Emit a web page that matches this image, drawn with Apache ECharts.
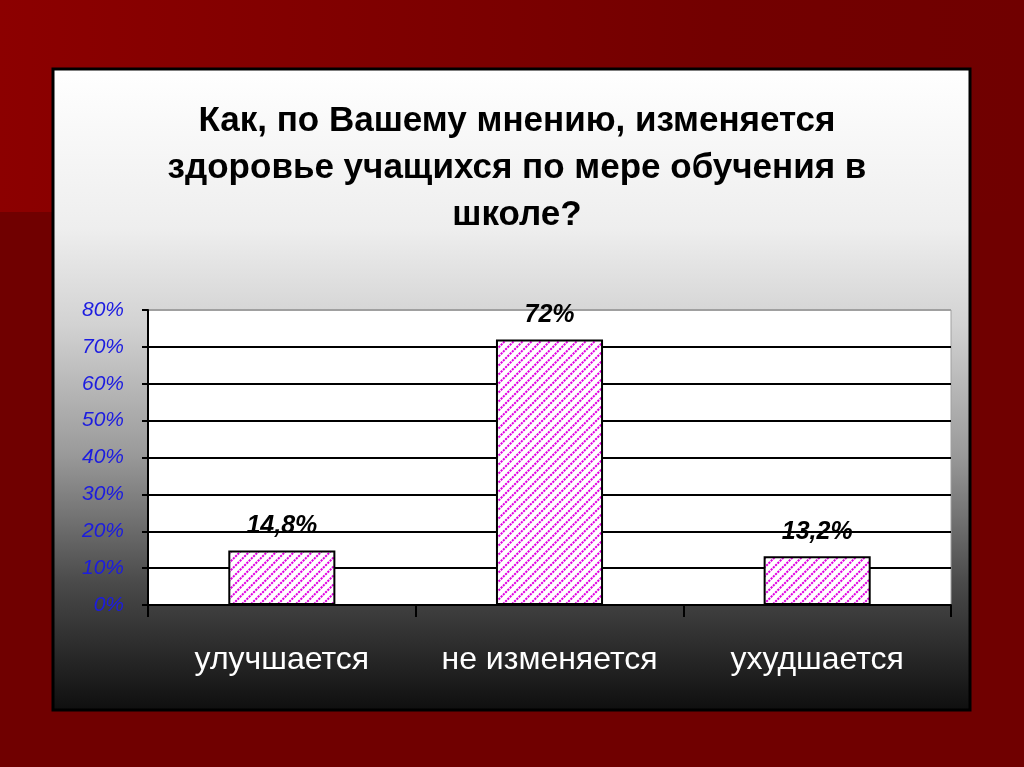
<!DOCTYPE html>
<html>
<head>
<meta charset="utf-8">
<script src="https://cdn.jsdelivr.net/npm/echarts@6/dist/echarts.min.js"></script>
<style>
html,body{margin:0;padding:0;background:#700000;}
#c{width:1024px;height:767px;}
</style>
</head>
<body>
<div id="c"></div>
<script>
var categories = ['улучшается', 'не изменяется', 'ухудшается'];
var values = [14.8, 72, 13.2];
var valueLabels = ['14,8%', '72%', '13,2%'];
var yTicks = [0, 10, 20, 30, 40, 50, 60, 70, 80];
var titleText = 'Как, по Вашему мнению, изменяется\nздоровье учащихся по мере обучения в\nшколе?';

// hatch pattern: dotted diagonal stripes
var pc = document.createElement('canvas');
pc.width = 9; pc.height = 9;
var g = pc.getContext('2d');
g.fillStyle = '#ffffff';
g.fillRect(0, 0, 9, 9);
g.strokeStyle = '#e000e0';
g.lineWidth = 2;
g.setLineDash([2.2, 1]);
[-9, 0, 9].forEach(function (o) {
  g.beginPath();
  g.moveTo(o - 1, 10);
  g.lineTo(o + 10, -1);
  g.stroke();
});

var chart = echarts.init(document.getElementById('c'), null, {renderer: 'canvas'});
var splitColors = yTicks.map(function (v, i) { return i === yTicks.length - 1 ? '#a0a0a0' : '#000000'; });

chart.setOption({
  backgroundColor: '#700000',
  animation: false,
  graphic: [
    {type: 'rect', z: -100, shape: {x: 0, y: 0, width: 1024, height: 212},
      style: {fill: {type: 'linear', x: 0, y: 0, x2: 1, y2: 0, colorStops: [
        {offset: 0, color: '#8c0000'}, {offset: 0.7, color: '#730000'}, {offset: 1, color: '#700000'}]}}},
    {type: 'rect', z: -99, shape: {x: 53, y: 69, width: 917, height: 641},
      style: {stroke: '#000000', lineWidth: 3,
        fill: {type: 'linear', x: 0, y: 0, x2: 0, y2: 1, colorStops: [
          {offset: 0, color: '#ffffff'},
          {offset: 0.25, color: '#eeeeee'},
          {offset: 0.4, color: '#d2d2d2'},
          {offset: 0.6, color: '#9a9a9a'},
          {offset: 0.8, color: '#4a4a4a'},
          {offset: 1, color: '#0e0e0e'}]}}}
  ],
  title: {
    text: titleText,
    left: 512,
    top: 93,
    textAlign: 'center',
    textStyle: {
      fontFamily: "'Liberation Sans', Arial, sans-serif",
      fontWeight: 'bold',
      fontSize: 35,
      lineHeight: 47,
      color: '#000000'
    }
  },
  grid: {
    left: 148, right: 73, top: 310, bottom: 162,
    show: true, backgroundColor: '#ffffff', borderColor: '#a0a0a0', borderWidth: 1,
    containLabel: false
  },
  xAxis: {
    type: 'category',
    data: categories,
    axisLine: {lineStyle: {color: '#000000', width: 2}},
    axisTick: {show: true, interval: 0, length: 12, lineStyle: {color: '#000000', width: 2}},
    axisLabel: {
      interval: 0,
      color: '#ffffff',
      fontFamily: "'Liberation Sans', Arial, sans-serif",
      fontSize: 32,
      lineHeight: 32,
      margin: 39
    }
  },
  yAxis: {
    type: 'value',
    min: 0, max: 80, interval: 10,
    axisLine: {show: true, lineStyle: {color: '#000000', width: 2}},
    axisTick: {show: true, length: 6, lineStyle: {color: '#000000', width: 2}},
    splitLine: {show: true, lineStyle: {color: splitColors, width: 2}},
    axisLabel: {
      formatter: '{value}%',
      color: '#1c1ce0',
      fontStyle: 'italic',
      fontFamily: "'Liberation Sans', Arial, sans-serif",
      fontSize: 21,
      margin: 24
    }
  },
  series: [{
    type: 'bar',
    data: values,
    barWidth: '40%',
    itemStyle: {
      color: {image: pc, repeat: 'repeat'},
      borderColor: '#000000',
      borderWidth: 2
    },
    label: {
      show: true,
      position: 'top',
      distance: 12,
      formatter: function (p) { return valueLabels[p.dataIndex]; },
      color: '#000000',
      fontStyle: 'italic',
      fontWeight: 'bold',
      fontFamily: "'Liberation Sans', Arial, sans-serif",
      fontSize: 25
    }
  }]
});
</script>
</body>
</html>
